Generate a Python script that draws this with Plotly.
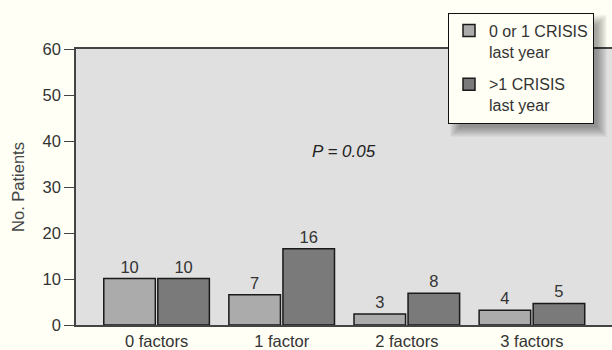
import plotly.graph_objects as go

categories = ["0 factors", "1 factor", "2 factors", "3 factors"]
low_vals = [10.1, 6.6, 2.4, 3.2]
high_vals = [10.1, 16.6, 6.9, 4.7]
low_labels = ["10", "7", "3", "4"]
high_labels = ["10", "16", "8", "5"]
series_names = ["0 or 1 CRISIS<br>last year", ">1 CRISIS<br>last year"]
y_ticks = [0, 10, 20, 30, 40, 50, 60]

FONT = "Liberation Sans, Arial, sans-serif"
FS = 16.5
W, H = 612, 350
L, R, T, B = 76, 0, 49, 25
pw, ph = W - L - R, H - T - B

def px(x):
    return (x - L) / pw

def py(y):
    return (H - B - y) / ph

fig = go.Figure()
fig.add_trace(go.Bar(
    x=categories, y=low_vals, name=series_names[0], legendgroup="a",
    marker=dict(color="#ABABAB", line=dict(color="#1a1a1a", width=1.5)),
    text=low_labels, textposition="outside",
    textfont=dict(size=FS, color="#333333"), cliponaxis=False,
))
fig.add_trace(go.Bar(
    x=categories, y=high_vals, name=series_names[1], legendgroup="b",
    marker=dict(color="#7A7A7A", line=dict(color="#1a1a1a", width=1.5)),
    text=high_labels, textposition="outside",
    textfont=dict(size=FS, color="#333333"), cliponaxis=False,
))

# legend drop shadow (soft, offset)
LX0, LX1, LY0, LY1 = 448, 595, 12.7, 125
OFF = 7
for k in range(-5, 6):
    fig.add_shape(type="rect", xref="paper", yref="paper",
                  x0=px(LX0 + OFF - k), x1=px(LX1 + OFF + k),
                  y0=py(LY1 + OFF + k), y1=py(LY0 + OFF - k),
                  line=dict(width=0), fillcolor="rgba(0,0,0,0.035)",
                  layer="above")

fig.add_annotation(x=1.5, y=37.7, xref="x", yref="y", text="<i>P = 0.05</i>",
                   showarrow=False, font=dict(size=17, color="#222222", family=FONT))

fig.update_layout(
    width=W, height=H,
    margin=dict(l=L, r=R, t=T, b=B, autoexpand=False),
    paper_bgcolor="#FFFFF5", plot_bgcolor="#E0E0E0",
    font=dict(family=FONT, size=FS, color="#333333"),
    barmode="group", bargap=0.136, bargroupgap=0.046,
    showlegend=True,
    legend=dict(x=px(LX0), y=py(LY0), xanchor="left", yanchor="top",
                bgcolor="#FFFFF5", bordercolor="#111111", borderwidth=1,
                font=dict(size=16, color="#333333"), tracegroupgap=9,
                traceorder="grouped", valign="top"),
    xaxis=dict(range=[-0.644, 3.64], showline=True, linecolor="#444444", linewidth=1.5,
               mirror=True, ticks="", showgrid=False, automargin=False,
               tickfont=dict(size=FS, color="#333333")),
    yaxis=dict(range=[0, 60], tickvals=y_ticks, showline=True, linecolor="#444444",
               linewidth=1.5, ticks="outside", ticklen=10, tickcolor="#444444",
               showgrid=False, zeroline=False, automargin=False,
               tickfont=dict(size=FS, color="#333333"),
               title=dict(text="No. Patients", font=dict(size=FS, color="#444444"), standoff=14)),
)

fig.write_html("out.html", config={"displayModeBar": False},
               post_script="document.body.style.margin='0';")
